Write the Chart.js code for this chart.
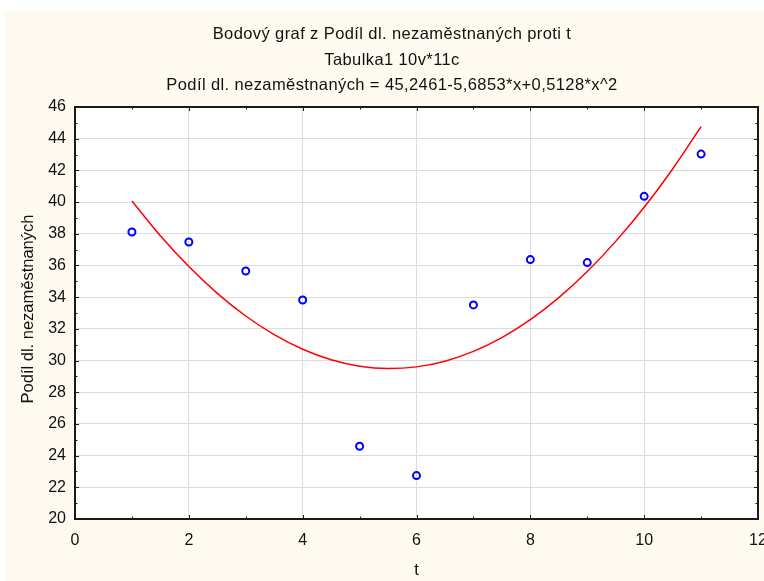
<!DOCTYPE html>
<html><head><meta charset="utf-8">
<script src="https://cdn.jsdelivr.net/npm/chart.js@4/dist/chart.umd.min.js"></script>
<style>html,body{margin:0;padding:0;background:#fff}#c{display:block}</style>
</head><body>
<canvas id="c" width="764" height="581"></canvas>
<script>
const titleLines = ["Bodový graf z Podíl dl. nezaměstnaných proti t", "Tabulka1 10v*11c", "Podíl dl. nezaměstnaných = 45,2461-5,6853*x+0,5128*x^2"];
const xAxisTitle = "t";
const yAxisTitle = "Podíl dl. nezaměstnaných";
const tValues = [1, 2, 3, 4, 5, 6, 7, 8, 9, 10, 11];
const podil = [38.11, 37.48, 35.65, 33.82, 24.59, 22.74, 33.51, 36.37, 36.18, 40.36, 43.03];
const fitT = [1, 1.5, 2, 2.5, 3, 3.5, 4, 4.5, 5, 5.5, 6, 6.5, 7, 7.5, 8, 8.5, 9, 9.5, 10, 10.5, 11];
const fitY = [40.07, 37.87, 35.93, 34.24, 32.81, 31.63, 30.71, 30.05, 29.64, 29.49, 29.60, 29.96, 30.58, 31.45, 32.58, 33.97, 35.62, 37.52, 39.67, 42.09, 44.76];
const xMin = 0, xMax = 12, xStep = 2;
const yMin = 20, yMax = 46, yStep = 2;

const FONT = "'Liberation Sans', Arial, sans-serif";

const deco = {
  id: 'deco',
  beforeDraw(chart) {
    const ctx = chart.ctx, a = chart.chartArea;
    ctx.save();
    ctx.fillStyle = '#ffffff';
    ctx.fillRect(0, 0, chart.width, chart.height);
    ctx.fillStyle = '#fefaf0';
    ctx.fillRect(5, 11, chart.width - 5, chart.height - 11);
    ctx.fillStyle = '#ffffff';
    ctx.fillRect(a.left, a.top, a.right - a.left, a.bottom - a.top);
    ctx.restore();
  },
  beforeDatasetsDraw(chart) {
    const ctx = chart.ctx, a = chart.chartArea;
    const xs = chart.scales.x, ys = chart.scales.y;
    ctx.save();
    ctx.strokeStyle = '#1a1a1a';
    ctx.lineWidth = 1;
    ctx.beginPath();
    for (let v = xMin; v <= xMax; v += 1) {
      const px = Math.round(xs.getPixelForValue(v)) + 0.5;
      const len = (v % xStep === 0) ? 4 : 2.5;
      ctx.moveTo(px, a.bottom); ctx.lineTo(px, a.bottom - len);
      ctx.moveTo(px, a.top); ctx.lineTo(px, a.top + len);
    }
    for (let v = yMin; v <= yMax; v += 1) {
      const py = Math.round(ys.getPixelForValue(v)) + 0.5;
      const len = (v % yStep === 0) ? 4 : 2.5;
      ctx.moveTo(a.left, py); ctx.lineTo(a.left + len, py);
      ctx.moveTo(a.right, py); ctx.lineTo(a.right - len, py);
    }
    ctx.stroke();
    ctx.lineWidth = 2;
    ctx.strokeRect(a.left, a.top, a.right - a.left, a.bottom - a.top);
    ctx.restore();
  },
  afterDraw(chart) {
    const ctx = chart.ctx;
    ctx.save();
    ctx.fillStyle = '#111';
    ctx.font = '16.5px ' + FONT;
    try { ctx.letterSpacing = '0.4px'; } catch (e) {}
    ctx.textAlign = 'center';
    ctx.textBaseline = 'middle';
    const ys = [34, 60, 85];
    titleLines.forEach((t, i) => ctx.fillText(t, 392, ys[i]));
    try { ctx.letterSpacing = '0px'; } catch (e) {}
    ctx.translate(28, 309);
    ctx.rotate(-Math.PI / 2);
    ctx.fillText(yAxisTitle, 0, 0);
    ctx.restore();
  }
};

new Chart(document.getElementById('c'), {
  type: 'scatter',
  data: {
    datasets: [
      {
        label: 'body',
        data: tValues.map((t, i) => ({x: t, y: podil[i]})),
        pointStyle: 'circle',
        pointRadius: 3.5,
        pointBorderWidth: 2,
        borderColor: '#0000ff',
        backgroundColor: 'rgba(255,255,255,0)',
        showLine: false,
        order: 0
      },
      {
        label: 'fit',
        data: fitT.map((t, i) => ({x: t, y: fitY[i]})),
        showLine: true,
        pointRadius: 0,
        borderColor: '#ff0000',
        borderWidth: 1.5,
        cubicInterpolationMode: 'monotone',
        fill: false,
        order: 1
      }
    ]
  },
  plugins: [deco],
  options: {
    responsive: false,
    animation: false,
    devicePixelRatio: 1,
    layout: { padding: { top: 107, left: 0, right: 5, bottom: 0 } },
    plugins: { legend: { display: false }, tooltip: { enabled: false }, title: { display: false } },
    scales: {
      x: {
        type: 'linear', min: xMin, max: xMax,
        afterFit(s) { s.height = 62; s.paddingLeft = 0; s.paddingRight = 0; },
        ticks: { stepSize: xStep, color: '#111', font: { family: FONT, size: 16 }, padding: 12, maxRotation: 0 },
        grid: { color: '#dcdcdc', lineWidth: 1, drawTicks: false },
        border: { display: false },
        title: { display: true, text: xAxisTitle, color: '#111', font: { family: FONT, size: 16.5 }, padding: { top: 0, bottom: 1 } }
      },
      y: {
        type: 'linear', min: yMin, max: yMax,
        afterFit(s) { s.width = 75; s.paddingTop = 0; s.paddingBottom = 0; },
        ticks: { stepSize: yStep, color: '#111', font: { family: FONT, size: 16 }, padding: 9 },
        grid: { color: '#dcdcdc', lineWidth: 1, drawTicks: false },
        border: { display: false },
        title: { display: false, text: yAxisTitle }
      }
    }
  }
});
</script>
</body></html>
